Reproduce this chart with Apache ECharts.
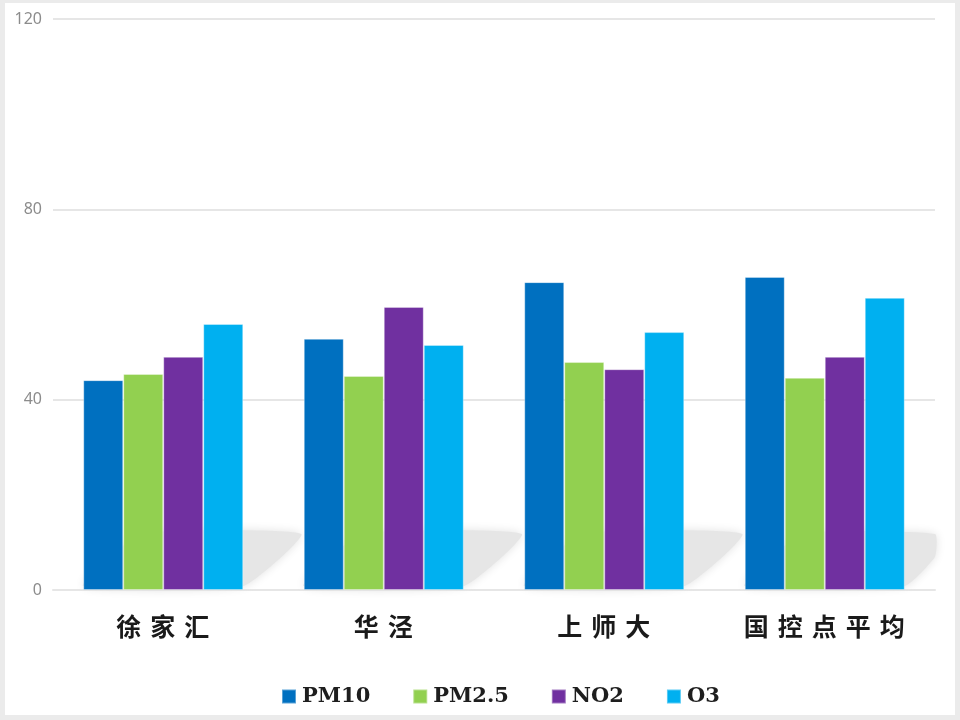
<!DOCTYPE html>
<html>
<head>
<meta charset="utf-8">
<script src="https://cdn.jsdelivr.net/npm/echarts@6/dist/echarts.min.js"></script>
<style>
  html, body { margin: 0; padding: 0; }
  #frame { position: relative; width: 960px; height: 720px; background: #ebebeb; }
  #chart { position: absolute; left: 5px; top: 3px; width: 950px; height: 712px; background: #ffffff; }
</style>
</head>
<body>
<div id="frame"><div id="chart"></div></div>
<script>
const categories = ['徐家汇', '华泾', '上师大', '国控点平均'];
const seriesNames = ['PM10', 'PM2.5', 'NO2', 'O3'];
const pm10 = [44.1, 52.8, 64.7, 65.8];
const pm25 = [45.4, 45.0, 47.9, 44.6];
const no2 = [49.0, 59.5, 46.4, 49.0];
const o3 = [55.9, 51.5, 54.2, 61.4];
const yTicks = [0, 40, 80, 120];
const colors = ['#0070C0', '#92D050', '#7030A0', '#00B0F0'];

const values = [pm10, pm25, no2, o3];

const chart = echarts.init(document.getElementById('chart'), null, { renderer: 'canvas' });

function spaced(s) {
  return s.split('').map(ch => '{c|' + ch + '}').join('');
}

const option = {
  backgroundColor: '#ffffff',
  animation: false,
  grid: { left: 48, right: 20, top: 16, bottom: 125, containLabel: false },
  legend: {
    data: seriesNames,
    top: 683,
    left: 276,
    padding: 0,
    itemWidth: 14,
    itemHeight: 14,
    itemGap: 42,
    icon: 'rect',
    textStyle: { fontFamily: 'DejaVu Serif', fontWeight: 'bold', fontSize: 21, color: '#1e1e1e', padding: [0, 0, 0, 1] }
  },
  xAxis: {
    type: 'category',
    data: categories,
    axisLine: { show: true, lineStyle: { color: '#e6e6e6', width: 2 } },
    axisTick: { show: false },
    axisLabel: {
      margin: 24,
      formatter: v => spaced(v),
      rich: {
        c: { fontFamily: 'Noto Sans CJK SC', fontWeight: 'bold', fontSize: 25, color: '#1a1a1a', padding: [0, 5, 0, 4] }
      }
    }
  },
  yAxis: {
    type: 'value',
    min: yTicks[0],
    max: yTicks[yTicks.length - 1],
    interval: 40,
    axisLine: { show: false },
    axisTick: { show: false },
    splitLine: { lineStyle: { color: '#e6e6e6', width: 2 } },
    axisLabel: { color: '#8c8c8c', fontSize: 16, fontFamily: 'Noto Sans', margin: 11 }
  },
  series: seriesNames.map((name, i) => ({
    name: name,
    type: 'bar',
    data: values[i],
    barWidth: 40,
    barGap: '0%',
    z: 5,
    itemStyle: { color: colors[i], borderColor: 'rgba(255,255,255,0.35)', borderWidth: 1 }
  }))
};

chart.setOption(option);

// decorative soft shadow behind each bar group, positioned from the axes
function buildShadows() {
  const y0 = chart.convertToPixel({ yAxisIndex: 0 }, 0);
  const catW = chart.convertToPixel({ xAxisIndex: 0 }, categories[1]) - chart.convertToPixel({ xAxisIndex: 0 }, categories[0]);
  const xRight = chart.convertToPixel({ xAxisIndex: 0 }, categories[categories.length - 1]) + catW / 2;
  const dx = 58, h = 56;
  const elems = categories.map((c, i) => {
    const cx = chart.convertToPixel({ xAxisIndex: 0 }, c);
    const x0 = cx - 80, x1 = cx + 80;
    let pts;
    if (x1 + dx > xRight) {
      const yr = y0 - h * (xRight - x1) / dx;
      pts = [[x0, y0 - 4], [x1, y0 - 4], [xRight, yr - 4], [xRight, y0 - h], [x0 + dx, y0 - h]];
    } else {
      pts = [[x0, y0 - 4], [x1, y0 - 4], [x1 + dx, y0 - h], [x0 + dx, y0 - h]];
    }
    return {
      type: 'polygon',
      z: 1,
      silent: true,
      shape: { points: pts, smooth: 0.15 },
      style: { fill: '#e6e6e6', shadowBlur: 10, shadowColor: '#e2e2e2' }
    };
  });
  chart.setOption({ graphic: elems });
}
buildShadows();
</script>
</body>
</html>
